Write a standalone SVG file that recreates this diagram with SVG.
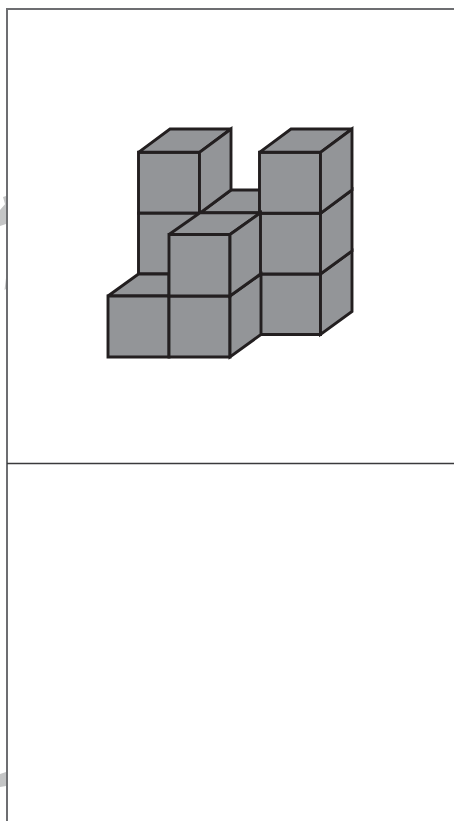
<svg xmlns="http://www.w3.org/2000/svg" width="454" height="821" viewBox="0 0 454 821">
<style>
.c path{fill:#939598;stroke:#231f20;stroke-width:2.9;stroke-linejoin:miter;stroke-miterlimit:3;stroke-linecap:butt}
.f{fill:none;stroke:#6d6e71;stroke-width:2}
.w{fill:#c4c5c6}
</style>
<rect width="454" height="821" fill="#fff"/>
<g id="watermark">
<path class="w" d="M0 210L6 203V224L0 226Z"/>
<path class="w" d="M3 197L6 196V204H5Z"/>
<path class="w" d="M4.500 290L6 278V289Z"/>
<path class="w" d="M0 774L6 772V786L0 787Z"/>
</g>
<g id="frame">
<path class="f" d="M454 9H7V821"/>
<path d="M7 463.500H454" fill="none" stroke="#3a3a3c" stroke-width="1.500"/>
</g>
<g id="cubes" class="c">
<g id="back-top"><path d="M200 213L231 190H260V213Z"/></g>
<g id="left-upper"><path d="M138.500 152.300H199.500V213.300H138.500Z"/><path d="M138.500 152.300L170 129H231L199.500 152.300Z"/><path d="M199.500 152.300L231 129V190L199.500 213.300Z"/></g>
<g id="left-lower"><path d="M138.500 213.300H199.500V274H138.500Z"/></g>
<g id="right-bottom"><path d="M259.500 274H320.500V334.500H259.500Z"/><path d="M320.500 274L352 251V311.500L320.500 334.500Z"/></g>
<g id="right-middle"><path d="M259.500 213.300H320.500V274H259.500Z"/><path d="M320.500 213.300L352 190V251L320.500 274Z"/></g>
<g id="right-upper"><path d="M259.500 152.300H320.500V213.300H259.500Z"/><path d="M259.500 152.300L291 129H352L320.500 152.300Z"/><path d="M320.500 152.300L352 129V190L320.500 213.300Z"/></g>
<g id="low-top"><path d="M108 296L138.500 274H169V296Z"/></g>
<g id="front-left"><path d="M108 296H169V357H108Z"/></g>
<g id="front-right"><path d="M169 296H230V357H169Z"/><path d="M230 296L261 274V334.500L230 357Z"/></g>
<g id="middle"><path d="M169 234.500H230V296H169Z"/><path d="M169 234.500L200 212.800H260.500L230 234.500Z"/><path d="M230 234.500L260.500 212.800V274L230 296Z"/></g>
</g>
</svg>
